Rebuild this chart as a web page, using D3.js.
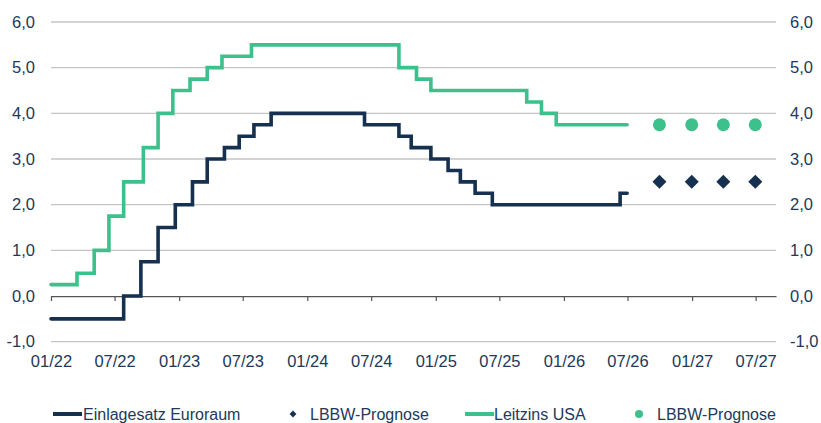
<!DOCTYPE html>
<html>
<head>
<meta charset="utf-8">
<script src="https://cdn.jsdelivr.net/npm/d3@7"></script>
<style>
  html, body { margin: 0; padding: 0; background: #ffffff; }
  svg { display: block; font-family: "Liberation Sans", Arial, sans-serif; }
</style>
</head>
<body>
<svg id="chart" width="821" height="423"></svg>
<script>
// Einlagesatz Euroraum: rate changes (date the new level starts, level in %)
const ecbDates  = ["2022-01-01","2022-07-27","2022-09-14","2022-11-02","2022-12-21","2023-02-08","2023-03-22","2023-05-10","2023-06-21","2023-08-02","2023-09-20","2024-06-12","2024-09-18","2024-10-23","2024-12-18","2025-02-05","2025-03-12","2025-04-23","2025-06-11","2026-06-10"];
const ecbValues = [-0.50, 0.00, 0.75, 1.50, 2.00, 2.50, 3.00, 3.25, 3.50, 3.75, 4.00, 3.75, 3.50, 3.25, 3.00, 2.75, 2.50, 2.25, 2.00, 2.25];

// Leitzins USA (upper bound): rate changes
const fedDates  = ["2022-01-01","2022-03-16","2022-05-04","2022-06-15","2022-07-27","2022-09-21","2022-11-02","2022-12-14","2023-02-01","2023-03-22","2023-05-03","2023-07-26","2024-09-18","2024-11-07","2024-12-18","2025-09-17","2025-10-29","2025-12-10"];
const fedValues = [0.25, 0.50, 1.00, 1.75, 2.50, 3.25, 4.00, 4.50, 4.75, 5.00, 5.25, 5.50, 5.00, 4.75, 4.50, 4.25, 4.00, 3.75];

// Last date of the historical series
const seriesEnd = "2026-06-30";

// LBBW-Prognose (quarter ends)
const forecastDates = ["2026-09-30","2026-12-31","2027-03-31","2027-06-30"];
const ecbForecast   = [2.50, 2.50, 2.50, 2.50];
const fedForecast   = [3.75, 3.75, 3.75, 3.75];

// Axis ticks
const yTicks = [-1, 0, 1, 2, 3, 4, 5, 6];
const xTickDates = ["2022-01-01","2022-07-01","2023-01-01","2023-07-01","2024-01-01","2024-07-01","2025-01-01","2025-07-01","2026-01-01","2026-07-01","2027-01-01","2027-07-01"];

// Legend entries
const legendLabels = ["Einlagesatz Euroraum", "LBBW-Prognose", "Leitzins USA", "LBBW-Prognose"];

const NAVY = "#15314f";
const GREEN = "#3cc08c";
const TEXT = "#22395a";

const parse = d3.utcParse("%Y-%m-%d");
const svg = d3.select("#chart");

const x = d3.scaleUtc()
  .domain([parse("2022-01-01"), parse("2027-08-28")])
  .range([51, 776]);
const y = d3.scaleLinear().domain([-1, 6]).range([341.7, 22]);

// Horizontal gridlines
svg.append("g")
  .selectAll("line")
  .data(yTicks.filter(v => v !== 0))
  .join("line")
  .attr("x1", x.range()[0]).attr("x2", x.range()[1])
  .attr("y1", d => y(d)).attr("y2", d => y(d))
  .attr("stroke", "#c4c4c4").attr("stroke-width", 1.3);

// Left and right value axes (labels only)
const fmt = d => d.toFixed(1).replace(".", ",");
const yLeft = d3.axisLeft(y).tickValues(yTicks).tickFormat(fmt).tickSize(0).tickPadding(0);
const yRight = d3.axisRight(y).tickValues(yTicks).tickFormat(fmt).tickSize(0).tickPadding(0);
svg.append("g").attr("transform", "translate(35,0)").call(yLeft)
  .call(g => g.select(".domain").remove());
svg.append("g").attr("transform", "translate(790,0)").call(yRight)
  .call(g => g.select(".domain").remove());

// Date axis at zero
const xAxis = d3.axisBottom(x)
  .tickValues(xTickDates.map(parse))
  .tickFormat(d3.utcFormat("%m/%y"))
  .tickSize(5).tickSizeOuter(0).tickPadding(0);
const xg = svg.append("g").attr("transform", `translate(0,${y(0)})`).call(xAxis);
xg.select(".domain").attr("stroke", "#555").attr("stroke-width", 1.2);
xg.selectAll(".tick line").attr("stroke", "#555").attr("stroke-width", 1.2);
xg.selectAll(".tick text").attr("y", y(-1) - y(0) + 25.5).attr("dy", null);

svg.selectAll(".tick text")
  .attr("fill", TEXT)
  .style("font-size", "16.5px")
  .style("font-family", "\"Liberation Sans\", Arial, sans-serif");

// Step lines
const stepData = (dates, values) => {
  const pts = dates.map((d, i) => ({ date: parse(d), value: values[i] }));
  pts.push({ date: parse(seriesEnd), value: values[values.length - 1] });
  return pts;
};
const line = d3.line().x(d => x(d.date)).y(d => y(d.value)).curve(d3.curveStepAfter);

svg.append("path")
  .datum(stepData(fedDates, fedValues))
  .attr("d", line)
  .attr("fill", "none").attr("stroke", GREEN).attr("stroke-width", 3.6)
  .attr("stroke-linejoin", "miter").attr("stroke-linecap", "round");

svg.append("path")
  .datum(stepData(ecbDates, ecbValues))
  .attr("d", line)
  .attr("fill", "none").attr("stroke", NAVY).attr("stroke-width", 3.6)
  .attr("stroke-linejoin", "miter").attr("stroke-linecap", "round");

// Forecast markers
const diamond = d3.symbol().type(d3.symbolDiamond2).size(125);
svg.append("g").selectAll("path")
  .data(forecastDates.map((d, i) => ({ date: parse(d), value: ecbForecast[i] })))
  .join("path")
  .attr("d", diamond)
  .attr("transform", d => `translate(${x(d.date)},${y(d.value)})`)
  .attr("fill", NAVY);

svg.append("g").selectAll("circle")
  .data(forecastDates.map((d, i) => ({ date: parse(d), value: fedForecast[i] })))
  .join("circle")
  .attr("cx", d => x(d.date)).attr("cy", d => y(d.value)).attr("r", 6.5)
  .attr("fill", GREEN);

// Legend
const legendY = 414;
const lg = svg.append("g");
lg.append("line").attr("x1", 53).attr("x2", 82).attr("y1", legendY).attr("y2", legendY)
  .attr("stroke", NAVY).attr("stroke-width", 4);
lg.append("text").attr("x", 83).attr("y", legendY).attr("dy", "0.35em").text(legendLabels[0]);
lg.append("path").attr("d", d3.symbol().type(d3.symbolDiamond2).size(30))
  .attr("transform", `translate(293,${legendY})`).attr("fill", NAVY);
lg.append("text").attr("x", 310).attr("y", legendY).attr("dy", "0.35em").text(legendLabels[1]);
lg.append("line").attr("x1", 465).attr("x2", 494).attr("y1", legendY).attr("y2", legendY)
  .attr("stroke", GREEN).attr("stroke-width", 4);
lg.append("text").attr("x", 494).attr("y", legendY).attr("dy", "0.35em").text(legendLabels[2]);
lg.append("circle").attr("cx", 639).attr("cy", legendY).attr("r", 4).attr("fill", GREEN);
lg.append("text").attr("x", 657).attr("y", legendY).attr("dy", "0.35em").text(legendLabels[3]);
lg.selectAll("text").attr("fill", TEXT).style("font-size", "16px");
</script>
</body>
</html>
